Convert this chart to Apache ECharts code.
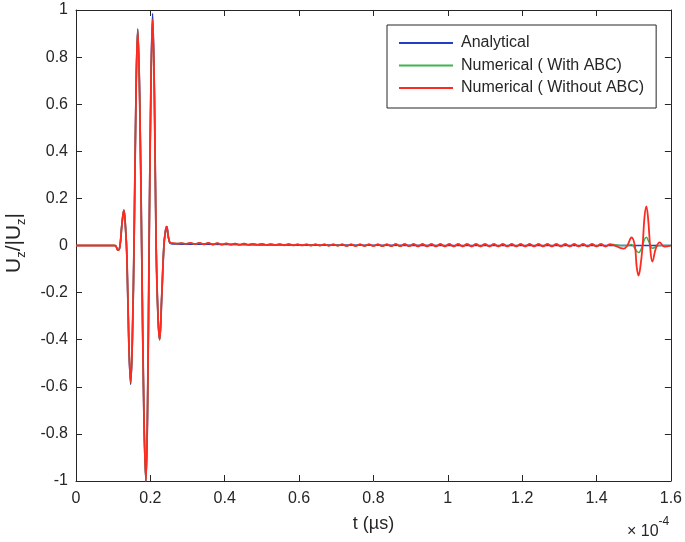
<!DOCTYPE html>
<html>
<head>
<meta charset="utf-8">
<script src="https://cdn.jsdelivr.net/npm/echarts@6/dist/echarts.min.js"></script>
<style>
html,body{margin:0;padding:0;background:#fff;}
#chart{width:685px;height:542px;}
</style>
</head>
<body>
<div id="chart"></div>
<script>
// ---- data (t in units of 1e-4 µs) ----
var seriesNames = ['Analytical', 'Numerical ( With ABC)', 'Numerical ( Without ABC)'];
var xTicks = [0, 0.2, 0.4, 0.6, 0.8, 1, 1.2, 1.4, 1.6];
var yTicks = [-1, -0.8, -0.6, -0.4, -0.2, 0, 0.2, 0.4, 0.6, 0.8, 1];

// main pulse
var tPulse = [0, 0.09, 0.105, 0.113, 0.118, 0.1235, 0.1287, 0.133, 0.137, 0.142, 0.147, 0.1515, 0.1565, 0.1615, 0.166, 0.1715, 0.177, 0.1825, 0.188, 0.1925, 0.197, 0.2015, 0.206, 0.211, 0.2155, 0.2205, 0.225, 0.2305, 0.2365, 0.2405, 0.244, 0.248, 0.252, 0.256];
var pulseNum = [0, 0, 0, -0.02, -0.005, 0.09, 0.15, 0.08, -0.05, -0.40, -0.58, -0.40, 0.05, 0.65, 0.915, 0.60, -0.05, -0.70, -1.0, -0.68, 0.05, 0.66, 0.96, 0.62, 0.0, -0.30, -0.40, -0.22, 0.0, 0.06, 0.08, 0.04, 0.014, 0.010];
var pulseAna = [0, 0, 0, -0.02, -0.005, 0.09, 0.15, 0.08, -0.05, -0.41, -0.59, -0.41, 0.05, 0.66, 0.92, 0.61, -0.05, -0.71, -1.0, -0.69, 0.06, 0.68, 0.985, 0.63, 0.0, -0.30, -0.40, -0.22, 0.0, 0.06, 0.08, 0.04, 0.012, 0.008];

// dispersive ripple between pulse and reflection (sampled every 0.012 from 0.26)
var tMidStart = 0.26, tMidStep = 0.012;
var midNum = [0.010,0.008,0.010,0.007,0.011,0.006,0.011,0.005,0.011,0.004,0.010,0.004,0.009,0.004,0.008,0.003,0.008,0.003,0.007,0.003,0.007,
  0.002,0.006,0.002,0.006,0.001,0.006,0.001,0.005,0.001,0.005,0.000,0.005,0.000,0.005,-0.001,0.005,-0.001,0.005,-0.002,0.005,-0.002,0.005,-0.002,0.005,-0.002,
  0.005,-0.003,0.005,-0.003,0.006,-0.003,0.006,-0.003,0.006,-0.004,0.006,-0.004,0.006,-0.004,0.006,-0.004,0.006,-0.004,0.006,-0.004,0.006,-0.004,0.006,-0.004,0.006,-0.004,0.006,-0.004,0.006,-0.004,0.006,-0.004,0.006,-0.004,0.006,-0.004,0.006,-0.004,0.006,-0.004,0.006,-0.004,0.006,-0.004,0.006,-0.004,0.006,-0.004,0.006,-0.004,0.006,-0.004,0.005];
var tAnaMid = [0.27, 0.3, 0.4, 0.5, 0.6, 0.8, 1.0, 1.2, 1.46];
var midAna = [0.007, 0.006, 0.005, 0.003, 0.002, 0.001, 0, 0, 0];

// boundary reflection near the end of the window
var tEnd = [1.473, 1.483, 1.494, 1.503, 1.508, 1.513, 1.518, 1.524, 1.529, 1.534, 1.539, 1.545, 1.550, 1.560, 1.570, 1.578, 1.583, 1.600];
var endRed = [-0.013, 0.0, 0.034, 0.0, -0.09, -0.128, -0.09, 0.0, 0.12, 0.166, 0.11, -0.02, -0.068, -0.01, 0.013, 0.0, -0.005, 0.0];
var endGreen = [0.0, 0.0, 0.004, -0.012, -0.024, -0.03, -0.022, 0.0, 0.026, 0.035, 0.022, 0.0, -0.012, -0.005, 0.0, 0.0, 0.0, 0.0];
var endAna = [0, 0, 0, 0, 0, 0, 0, 0, 0, 0, 0, 0, 0, 0, 0, 0, 0, 0];

function zip(ts, vs) { return ts.map(function (t, i) { return [t, vs[i]]; }); }
var midPairs = midNum.map(function (v, i) { return [tMidStart + i * tMidStep, v]; });

var dataAna = zip(tPulse, pulseAna).concat(zip(tAnaMid, midAna), zip(tEnd, endAna));
var dataGreen = zip(tPulse, pulseNum).concat(midPairs, zip(tEnd, endGreen));
var dataRed = zip(tPulse, pulseNum).concat(midPairs, zip(tEnd, endRed));

var FONT = '"Liberation Sans", Arial, Helvetica, sans-serif';
var AX = '#262626';
var colors = ['#1f3fc4', '#3fb34f', '#ff2a1f'];

var chart = echarts.init(document.getElementById('chart'), null, {renderer: 'canvas'});

function fmt(v) {
  var r = Math.round(v * 10) / 10;
  if (r === 0) return '0';
  if (Math.abs(r) === 1) return String(r);
  return r.toFixed(1);
}

var baseAxisLine = {show: true, onZero: false, lineStyle: {color: AX, width: 1}};
var baseTick = {show: true, inside: true, length: 6, lineStyle: {color: AX, width: 1}};

chart.setOption({
  animation: false,
  backgroundColor: '#ffffff',
  color: colors,
  grid: {left: 76, right: 12, top: 10, bottom: 61, containLabel: false},
  legend: {
    data: seriesNames,
    orient: 'vertical',
    left: 387, top: 25,
    padding: [10, 12, 12, 12],
    itemGap: 6.5,
    itemWidth: 54, itemHeight: 2,
    icon: 'rect',
    borderColor: AX, borderWidth: 1,
    backgroundColor: '#ffffff',
    textStyle: {fontFamily: FONT, fontSize: 16, color: AX, lineHeight: 16, padding: [0, 0, 0, 3]}
  },
  xAxis: [{
    type: 'value', min: 0, max: 1.6, interval: 0.2, position: 'bottom',
    axisLine: baseAxisLine, axisTick: baseTick, splitLine: {show: false},
    axisLabel: {formatter: fmt, fontFamily: FONT, fontSize: 16, color: AX, margin: 10},
    name: 't (µs)', nameLocation: 'middle', nameGap: 34,
    nameTextStyle: {fontFamily: FONT, fontSize: 18, color: AX}
  }, {
    type: 'value', min: 0, max: 1.6, interval: 0.2, position: 'top',
    axisLine: baseAxisLine, axisTick: baseTick, splitLine: {show: false},
    axisLabel: {show: false}
  }],
  yAxis: [{
    type: 'value', min: -1, max: 1, interval: 0.2, position: 'left',
    axisLine: baseAxisLine, axisTick: baseTick, splitLine: {show: false},
    axisLabel: {formatter: fmt, fontFamily: FONT, fontSize: 16, color: AX, margin: 8}
  }, {
    type: 'value', min: -1, max: 1, interval: 0.2, position: 'right',
    axisLine: baseAxisLine, axisTick: baseTick, splitLine: {show: false},
    axisLabel: {show: false}
  }],
  graphic: [{
    type: 'text',
    rotation: Math.PI / 2,
    x: 14, y: 243,
    style: {
      text: '{n|U}{s|z}{n|/|U}{s|z}{n||}',
      rich: {
        n: {fontFamily: FONT, fontSize: 21, fill: AX, lineHeight: 28, verticalAlign: 'middle'},
        s: {fontFamily: FONT, fontSize: 13, fill: AX, lineHeight: 28, verticalAlign: 'bottom'}
      },
      align: 'center', verticalAlign: 'middle'
    }
  }, {
    type: 'text', x: 627, y: 516,
    style: {
      text: '{n|× 10}{s|-4}',
      rich: {
        n: {fontFamily: FONT, fontSize: 16, fill: AX, lineHeight: 24, verticalAlign: 'bottom'},
        s: {fontFamily: FONT, fontSize: 12, fill: AX, lineHeight: 24, verticalAlign: 'top'}
      },
      align: 'left', verticalAlign: 'top'
    }
  }],
  series: [{
    name: seriesNames[0], type: 'line', data: dataAna, showSymbol: false, symbol: 'none',
    smooth: 0.4, lineStyle: {width: 1.7, color: colors[0]}, z: 2
  }, {
    name: seriesNames[1], type: 'line', data: dataGreen, showSymbol: false, symbol: 'none',
    smooth: 0.4, lineStyle: {width: 1.5, color: colors[1]}, z: 3
  }, {
    name: seriesNames[2], type: 'line', data: dataRed, showSymbol: false, symbol: 'none',
    smooth: 0.4, lineStyle: {width: 1.8, color: colors[2]}, z: 4
  }]
});
</script>
</body>
</html>
